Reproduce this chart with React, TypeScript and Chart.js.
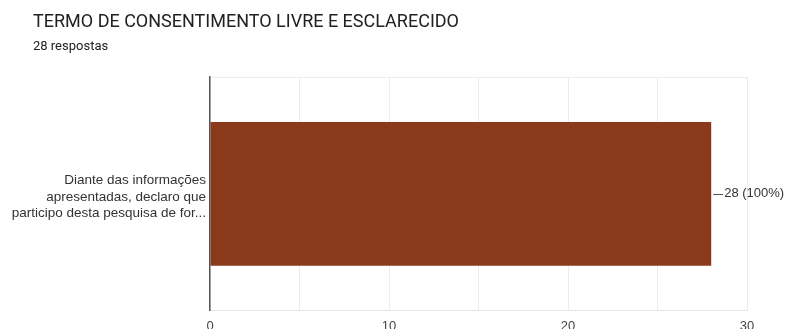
import React, { useEffect, useRef } from "react";
import { Chart, registerables } from "chart.js";

Chart.register(...registerables);

const TITLE = "TERMO DE CONSENTIMENTO LIVRE E ESCLARECIDO";
const SUBTITLE = "28 respostas";
const categories: string[][] = [
  ["Diante das informações", "apresentadas, declaro que", "participo desta pesquisa de for..."],
];
const counts: number[] = [28];
const percents: number[] = [100];
const xMin = 0;
const xMax = 30;

const FONT = "Roboto, 'Liberation Sans', Arial, sans-serif";
const ARIAL = "'Liberation Sans', Arial, sans-serif";

const headerPlugin = {
  id: "header",
  afterDraw(chart: any) {
    const ctx = chart.ctx;
    ctx.save();
    ctx.fillStyle = "#202124";
    ctx.textBaseline = "middle";
    ctx.textAlign = "left";
    ctx.font = `18px ${FONT}`;
    ctx.fillText(TITLE, 33, 22);
    ctx.font = `13px ${FONT}`;
    ctx.fillStyle = "#202124";
    ctx.fillText(SUBTITLE, 33, 47);
    ctx.restore();
  },
};

const valueLabelPlugin = {
  id: "valueLabels",
  afterDatasetsDraw(chart: any) {
    const ctx = chart.ctx;
    const meta = chart.getDatasetMeta(0);
    ctx.save();
    meta.data.forEach((bar: any, i: number) => {
      const x = bar.x;
      const y = bar.y;
      ctx.strokeStyle = "#555";
      ctx.lineWidth = 1;
      ctx.beginPath();
      ctx.moveTo(x + 2, Math.round(y) + 0.5);
      ctx.lineTo(x + 12, Math.round(y) + 0.5);
      ctx.stroke();
      ctx.fillStyle = "#333";
      ctx.font = `13px ${ARIAL}`;
      ctx.textAlign = "left";
      ctx.textBaseline = "middle";
      ctx.fillText(`${counts[i]} (${percents[i]}%)`, x + 13, y);
    });
    ctx.restore();
  },
};

export default function App() {
  const ref = useRef<HTMLCanvasElement | null>(null);
  useEffect(() => {
    document.body.style.margin = "0";
    const canvas = ref.current!;
    const chart = new Chart(canvas, {
      type: "bar",
      data: {
        labels: categories,
        datasets: [
          {
            data: counts,
            backgroundColor: "#8a391d",
            borderWidth: 0,
            categoryPercentage: 1,
            barPercentage: 0.615,
          },
        ],
      },
      options: {
        indexAxis: "y",
        responsive: false,
        animation: false,
        devicePixelRatio: 1,
        layout: { padding: { top: 77, right: 38, left: 0, bottom: 2.6 } },
        plugins: {
          legend: { display: false },
          tooltip: { enabled: false },
          title: { display: false },
        },
        scales: {
          x: {
            min: xMin,
            max: xMax,
            ticks: {
              stepSize: 5,
              padding: 8,
              color: "#444",
              font: { family: ARIAL, size: 13 },
              callback: (v: any) => (Number(v) % 10 === 0 ? String(v) : ""),
              maxRotation: 0,
              autoSkip: false,
            },
            grid: { color: "#ececec", drawTicks: false, lineWidth: 1 },
            border: { color: "#e6e6e6", width: 1 },
          },
          y: {
            afterFit: (s: any) => {
              s.width = 210;
            },
            ticks: {
              padding: 4,
              labelOffset: 3,
              color: "#333",
              font: { family: ARIAL, size: 13.5, lineHeight: 1.24 },
            },
            grid: { color: "#ececec", drawTicks: false, offset: true },
            border: { color: "#555", width: 1.5 },
          },
        },
      },
      plugins: [headerPlugin, valueLabelPlugin],
    });
    return () => chart.destroy();
  }, []);
  return (
    <canvas
      ref={ref}
      width={785}
      height={345}
      style={{ display: "block", width: 785, height: 345 }}
    />
  );
}
